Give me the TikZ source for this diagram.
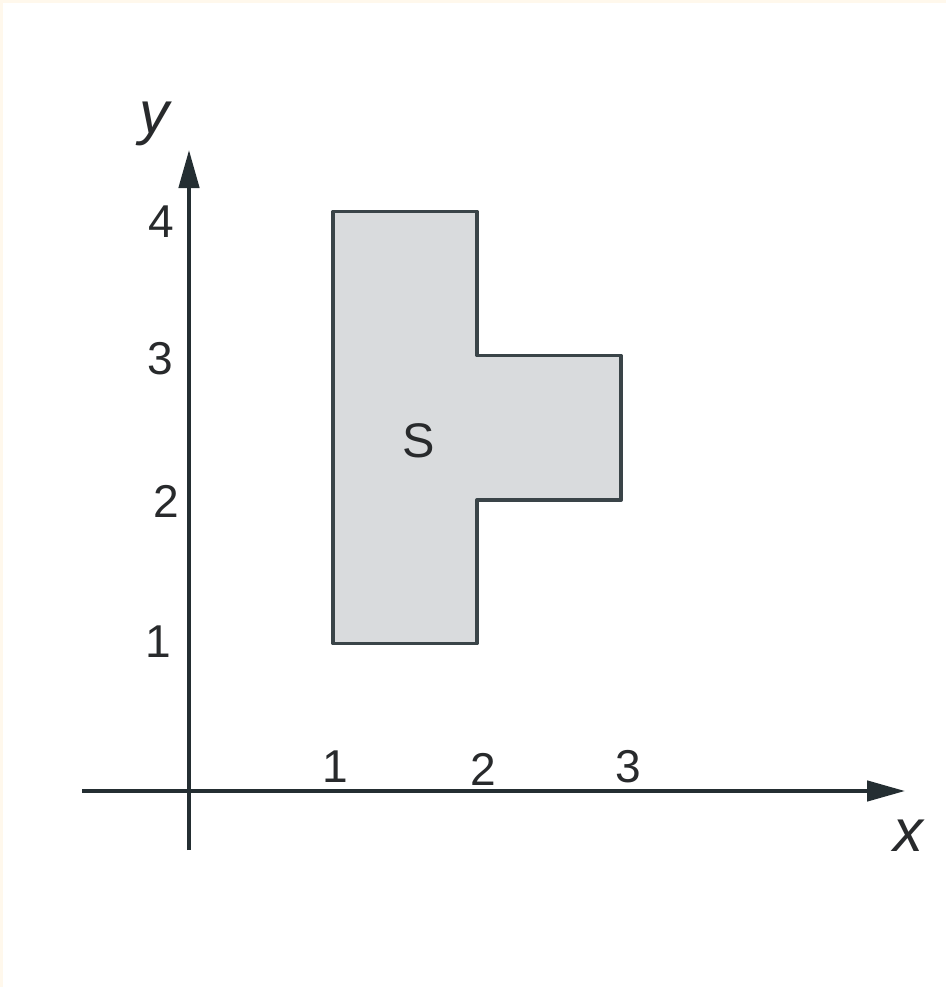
\documentclass[tikz,border=0pt]{standalone}
\usepackage{fontspec}
\setmainfont{Liberation Sans}
\usepackage{xcolor}
\usetikzlibrary{arrows.meta,positioning}
\definecolor{cream}{RGB}{255,248,236}
\definecolor{regfill}{RGB}{217,219,221}
\definecolor{regline}{RGB}{58,68,72}
\definecolor{axline}{RGB}{36,46,50}
\definecolor{labtext}{RGB}{40,42,44}

\begin{document}
\begin{tikzpicture}[
  x=1cm,y=1cm,
  axis/.style={draw=axline,line width=0.75pt,-{Triangle[length=7.5pt,width=4pt]}},
  region/.style={draw=regline,fill=regfill,line width=0.7pt,line join=round},
  ticklab/.style={anchor=base,inner sep=0pt,text=labtext,font=\fontsize{9.1}{11}\selectfont},
  axlab/.style={anchor=base,inner sep=0pt,text=labtext,font=\fontsize{11.8}{14}\selectfont\itshape},
]
% page and margins
\fill[cream] (-1.3125,-1.3611) rectangle (5.2569,5.4931);
\fill[white] (-1.2917,-1.3611) rectangle (5.2569,5.4722);
\useasboundingbox (-1.3125,-1.3611) rectangle (5.2569,5.4931);

% region S
\draw[region] (1,1.025) -- (2,1.025) -- (2,2.02) -- (3,2.02) -- (3,3.025)
  -- (2,3.025) -- (2,4.025) -- (1,4.025) -- cycle;
\node[ticklab,font=\fontsize{9.6}{11}\selectfont] (s) at (1.597,2.319) {S};

% axes
\coordinate (xstart) at (-0.743,0);
\coordinate (xend)   at (4.972,0);
\coordinate (ystart) at (0,-0.41);
\coordinate (yend)   at (0,4.451);
\draw[axis] (xstart) -- (xend);
\draw[axis] (ystart) -- (yend);
\node[axlab] (xlab) at (4.993,-0.4167) {x};
\node[axlab] (ylab) at (-0.24,4.569) {y};

% tick labels
\node[ticklab] (x1) at (1.014,0.056) {1};
\node[ticklab] (x2) at (2.042,0.035) {2};
\node[ticklab] (x3) at (3.049,0.0625) {3};
\node[ticklab] (y1) at (-0.215,0.924) {1};
\node[ticklab] (y2) at (-0.160,1.896) {2};
\node[ticklab] (y3) at (-0.201,2.889) {3};
\node[ticklab] (y4) at (-0.194,3.847) {4};
\end{tikzpicture}
\end{document}
